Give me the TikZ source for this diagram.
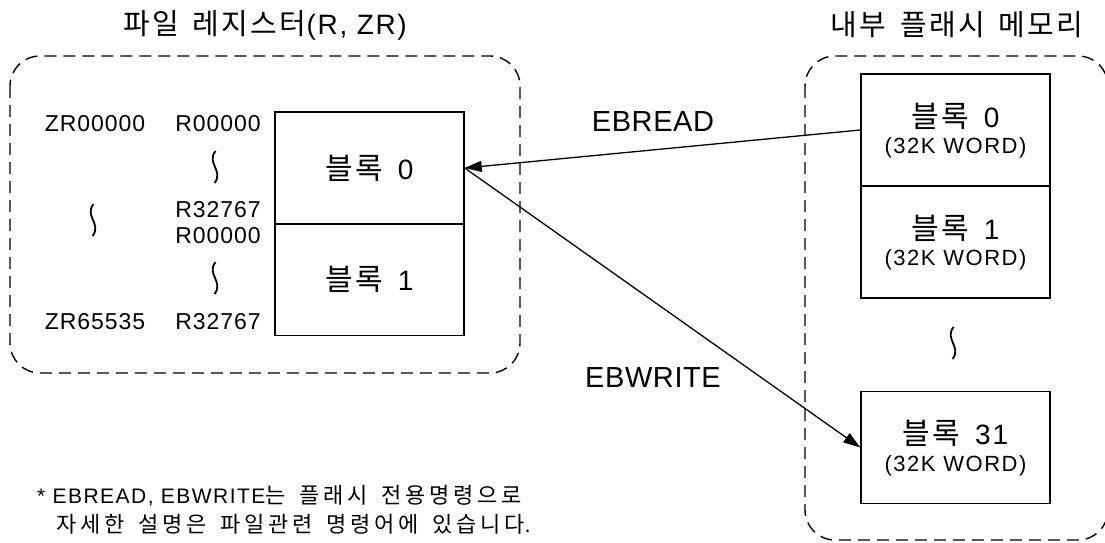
\documentclass[tikz,border=0pt]{standalone}
\usepackage{fontspec}
\setmainfont{Noto Sans CJK KR}[LetterSpace=8, WordSpace=1.6]
\newfontfamily\enfont{Liberation Sans}[LetterSpace=7]
\usepackage{tikz}
\usetikzlibrary{positioning, arrows.meta}
\definecolor{InkBlack}{RGB}{0, 0, 0}

\begin{document}
\begin{tikzpicture}[x=1pt, y=-1pt,
    frame/.style={draw=InkBlack, line width=1.4pt, dash pattern=on 12pt off 7pt, rounded corners=30pt},
    blockbox/.style={draw=InkBlack, line width=1.5pt, minimum width=189pt, minimum height=112pt, inner sep=0pt},
    title/.style={font=\fontsize{29}{29}\selectfont},
    addr/.style={font=\enfont\fontsize{23}{23}\selectfont\addfontfeature{LetterSpace=4}},
    blk/.style={font=\fontsize{30}{30}\selectfont},
    word/.style={font=\enfont\fontsize{22}{22}\selectfont\addfontfeature{LetterSpace=7}},
    cmd/.style={font=\enfont\fontsize{29}{29}\selectfont\addfontfeature{LetterSpace=2}},
    note/.style={font=\fontsize{22}{22}\selectfont\addfontfeature{LetterSpace=17}, anchor=west, inner sep=0pt},
    flow/.style={draw=InkBlack, line width=1.3pt, -{Triangle[length=17pt, width=11pt]}},
    vwave/.pic={\draw[InkBlack, line width=1.8pt] (0.5,-16) .. controls (-9,-4) and (9,4) .. (-0.5,16);}]
    \useasboundingbox (0,0) rectangle (1105,543);

    % File register
    \begin{scope}
        \draw[frame] (10,56) rectangle (520,373);
        \node[title] (regtitle) at (265,25) {파일 레지스터{\enfont\fontsize{28}{28}\selectfont\addfontfeature{LetterSpace=6}(R, ZR)}};
        \node[blockbox] (lblk0) at (369.5,168) {};
        \node[blockbox] (lblk1) at (369.5,279.5) {};
        \node[blk] at (lblk0.center) {블록 {\enfont\fontsize{28}{28}\selectfont 0}};
        \node[blk] at (lblk1.center) {블록 {\enfont\fontsize{28}{28}\selectfont 1}};
        \node[addr] (zrfirst) at (95,124) {ZR00000};
        \node[addr] (zrlast) at (95,322) {ZR65535};
        \node[addr] (rfirst0) at (218,124) {R00000};
        \node[addr] (rlast0) at (218,210) {R32767};
        \node[addr] (rfirst1) at (218,236) {R00000};
        \node[addr] (rlast1) at (218,322) {R32767};
        \pic at (93,220) {vwave};
        \pic at (215,167) {vwave};
        \pic at (215,278) {vwave};
    \end{scope}

    % Internal flash memory
    \begin{scope}
        \draw[frame] (805,56) rectangle (1108,540);
        \node[title] (flashtitle) at (957,25) {내부 플래시 메모리};
        \node[blockbox] (rblk0) at (955.5,130) {};
        \node[blockbox] (rblk1) at (955.5,242) {};
        \node[blockbox] (rblk31) at (955.5,447.5) {};
        \foreach \b/\t in {rblk0/0, rblk1/1, rblk31/31} {
            \node[blk] at ([yshift=14pt]\b.center) {블록 {\enfont\fontsize{28}{28}\selectfont\t}};
            \node[word] at ([yshift=-18pt]\b.center) {(32K WORD)};
        }
        \pic at (953,343) {vwave};
    \end{scope}

    % Commands
    \draw[flow] (rblk0.west) -- (lblk0.east);
    \draw[flow] (lblk0.east) -- (rblk31.west);
    \node[cmd] (readlbl) at (653,122) {EBREAD};
    \node[cmd] (writelbl) at (653,378) {EBWRITE};

    % Footnote
    \node[note] (note1) at (37,496) {{\enfont\fontsize{21}{21}\selectfont * EBREAD, EBWRITE}는 플래시 전용명령으로};
    \node[note] (note2) at (56,524) {자세한 설명은 파일관련 명령어에 있습니다{\enfont .}};
\end{tikzpicture}
\end{document}
